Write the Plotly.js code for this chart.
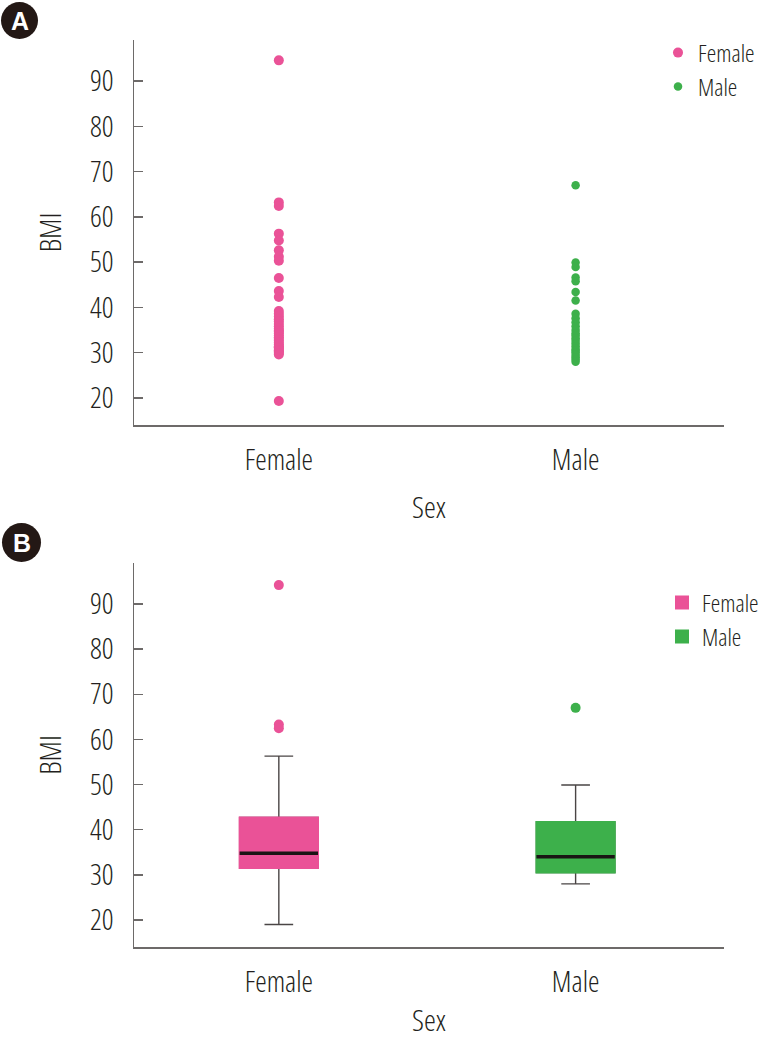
<!DOCTYPE html>
<html>
<head>
<meta charset="utf-8">
<script src="https://cdn.plot.ly/plotly-3.0.1.min.js"></script>
<style>html,body{margin:0;padding:0;background:#fff;overflow:hidden;}#chart{width:768px;height:1042px;}</style>
</head>
<body>
<div id="chart"></div>
<script>
// ---- Data ----
const categories = ['Female', 'Male'];
const femaleBMI = [94.6, 63.2, 62.4, 56.3, 54.8, 52.6, 51.2, 50.3, 46.5, 43.6, 42.3,
  39.2, 38.6, 38.0, 37.4, 36.9, 36.3, 35.8, 35.3, 34.9, 34.6, 34.2, 33.8, 33.4, 33.0,
  32.6, 32.2, 31.8, 31.4, 31.2, 31.0, 30.6, 30.4, 30.2, 29.9, 29.6, 19.3];
const maleBMI = [67.0, 49.9, 48.9, 46.6, 45.8, 43.4, 41.5, 38.6, 37.6, 36.7, 35.8,
  35.0, 34.3, 33.8, 33.2, 32.6, 32.0, 31.4, 30.8, 30.4, 30.0, 29.5, 29.0, 28.5, 28.0];
const boxQ1 = [31.5, 30.5];
const boxMedian = [34.8, 34.0];
const boxQ3 = [42.7, 41.7];
const boxLowerFence = [19.0, 28.0];
const boxUpperFence = [56.3, 49.9];
const femaleOutliers = [94.2, 63.3, 62.5];
const maleOutliers = [67.0];
const yTickVals = [20, 30, 40, 50, 60, 70, 80, 90];
const yTickText = ['20', '30', '40', '50', '60', '70', '80', '90'];
const xTitle = 'Sex';
const yTitle = 'BMI';

// ---- Font choice: pick the narrowest installed sans (reference uses a condensed face) ----
function pickFont() {
  const c = document.createElement('canvas').getContext('2d');
  const sample = 'Female Male 0123456789';
  function width(fam, stretch) {
    c.font = '100px ' + fam;
    if ('fontStretch' in c) c.fontStretch = stretch || 'normal';
    return c.measureText(sample).width;
  }
  const mono = width('monospace'), serif = width('serif');
  const cands = [
    {fam: 'Liberation Sans Narrow', stretch: 'normal'},
    {fam: 'Noto Sans', stretch: 'condensed'},
    {fam: 'Open Sans', stretch: 'condensed'},
    {fam: 'Roboto', stretch: 'condensed'},
    {fam: 'DejaVu Sans Condensed', stretch: 'normal'},
    {fam: 'DejaVu Sans', stretch: 'condensed'}
  ];
  let best = null;
  cands.forEach(cd => {
    const a = width('"' + cd.fam + '", monospace', cd.stretch);
    const b = width('"' + cd.fam + '", serif', cd.stretch);
    if (Math.abs(a - mono) < 0.5 && Math.abs(b - serif) < 0.5) return; // not installed
    if (!best || a < best.w) best = {fam: cd.fam, stretch: cd.stretch, w: a};
  });
  return best || {fam: 'DejaVu Sans Condensed', stretch: 'normal', w: 1000};
}
const chosen = pickFont();
const st = document.createElement('style');
st.textContent = 'text{font-stretch:' + chosen.stretch + ';}';
document.head.appendChild(st);
const emPerFemale = chosen.w / 100 * (6 / 22) * 1.05;
let SZ = Math.max(24, Math.min(29, Math.round(82 / emPerFemale)));
const LSZ = Math.min(SZ - 1, 24);

// ---- Styles ----
const PINK = '#EA5297';
const GREEN = '#3DB04B';
const AXIS = '#6d6a69';
const TXT = '#231f20';
const WHISK = '#4a4545';
const FONT = '"' + chosen.fam + '", "DejaVu Sans Condensed", sans-serif';
const WT = 350;
const W = 768, H = 1042;

const traces = [];
// Panel A: strip plot
traces.push({type: 'scatter', mode: 'markers', name: 'Female', xaxis: 'x', yaxis: 'y',
  x: femaleBMI.map(() => categories[0]), y: femaleBMI, legend: 'legend',
  marker: {color: PINK, size: 10}, hoverinfo: 'y'});
traces.push({type: 'scatter', mode: 'markers', name: 'Male', xaxis: 'x', yaxis: 'y',
  x: maleBMI.map(() => categories[1]), y: maleBMI, legend: 'legend2',
  marker: {color: GREEN, size: 8.5}, hoverinfo: 'y'});

// Panel B: box plots
const cols = [PINK, GREEN];
const boxLegends = ['legend3', 'legend4'];
categories.forEach((c, i) => {
  traces.push({type: 'box', xaxis: 'x2', yaxis: 'y2', x: [c], q1: [boxQ1[i]], median: [boxMedian[i]],
    q3: [boxQ3[i]], lowerfence: [boxLowerFence[i]], upperfence: [boxUpperFence[i]],
    width: 0.264, whiskerwidth: 0.366, boxpoints: false, fillcolor: cols[i],
    line: {color: WHISK, width: 1.4}, showlegend: false, hoverinfo: 'skip'});
});
categories.forEach((c, i) => {
  traces.push({type: 'box', name: c, xaxis: 'x2', yaxis: 'y2', x: [c], q1: [boxQ1[i]], median: [boxMedian[i]],
    q3: [boxQ3[i]], lowerfence: [boxQ1[i]], upperfence: [boxQ3[i]],
    width: 0.264, whiskerwidth: 0, boxpoints: false, fillcolor: cols[i], legend: boxLegends[i],
    line: {color: cols[i], width: 2}, showlegend: true, hoverinfo: 'skip'});
});
categories.forEach((c, i) => {
  traces.push({type: 'box', xaxis: 'x2', yaxis: 'y2', x: [c], q1: [boxMedian[i]], median: [boxMedian[i]],
    q3: [boxMedian[i]], lowerfence: [boxMedian[i]], upperfence: [boxMedian[i]],
    width: 0.264, whiskerwidth: 0, boxpoints: false, fillcolor: 'rgba(0,0,0,0)',
    line: {color: '#1a1414', width: 3.5}, showlegend: false, hoverinfo: 'skip'});
});
traces.push({type: 'scatter', mode: 'markers', xaxis: 'x2', yaxis: 'y2', showlegend: false,
  x: femaleOutliers.map(() => categories[0]), y: femaleOutliers, marker: {color: PINK, size: 10}});
traces.push({type: 'scatter', mode: 'markers', xaxis: 'x2', yaxis: 'y2', showlegend: false,
  x: maleOutliers.map(() => categories[1]), y: maleOutliers, marker: {color: GREEN, size: 10}});

function xAxis(anchor, withTitle) {
  const ax = {domain: [134 / W, 724 / W], anchor: anchor, type: 'category', categoryorder: 'array',
    categoryarray: categories, range: [-0.488, 1.5], showline: true, linecolor: AXIS, linewidth: 1.5,
    ticks: '', showgrid: false, zeroline: false,
    tickfont: {family: FONT, size: SZ, color: TXT, weight: WT},
    ticklabelstandoff: 9, automargin: false};
  if (withTitle) ax.title = {text: xTitle, font: {family: FONT, size: SZ + 1, color: TXT, weight: WT}, standoff: 19};
  return ax;
}
function yAxis(anchor, top, bottom) {
  return {domain: [(H - bottom) / H, (H - top) / H], anchor: anchor, range: [14, 99.1],
    tickvals: yTickVals, ticktext: yTickText, ticks: 'inside', ticklen: 9, tickwidth: 1.5, tickcolor: AXIS,
    showline: true, linecolor: AXIS, linewidth: 1.5, showgrid: false, zeroline: false,
    tickfont: {family: FONT, size: SZ, color: TXT, weight: WT}, ticklabelstandoff: 13, automargin: false,
    title: {text: yTitle, font: {family: FONT, size: SZ + 1, color: TXT, weight: WT}, standoff: 19}};
}

function badge(letter, cx, cy, r) {
  return {
    shape: {type: 'circle', xref: 'paper', yref: 'paper', xsizemode: 'pixel', ysizemode: 'pixel',
      xanchor: cx / W, yanchor: 1 - cy / H, x0: -r, x1: r, y0: -r, y1: r,
      fillcolor: '#231815', line: {width: 0}, layer: 'above'},
    ann: {text: '<b>' + letter + '</b>', xref: 'paper', yref: 'paper', x: cx / W, y: 1 - cy / H,
      xanchor: 'center', yanchor: 'middle', showarrow: false,
      font: {family: '"Liberation Sans", Arial, sans-serif', size: 25, color: '#ffffff'}}
  };
}
const bA = badge('A', 19.5, 20.5, 18.5);
const bB = badge('B', 21.5, 542.5, 19.5);
// x-axis title of panel B, sitting on the bottom edge of the page
const sexB = {text: xTitle, xref: 'x2 domain', yref: 'paper', x: 0.5, y: 1 / H,
  xanchor: 'center', yanchor: 'bottom', showarrow: false, borderpad: 0,
  font: {family: FONT, size: SZ + 1, color: TXT, weight: WT}};

function legendAt(xPx, yPx) {
  return {x: xPx / W, xanchor: 'left', y: 1 - yPx / H, yanchor: 'middle', bgcolor: 'rgba(0,0,0,0)',
    font: {family: FONT, size: LSZ, color: TXT, weight: WT}, borderwidth: 0};
}

const layout = {
  width: W, height: H, margin: {l: 0, r: 0, t: 0, b: 0, autoexpand: false},
  paper_bgcolor: '#fff', plot_bgcolor: '#fff',
  font: {family: FONT, color: TXT, weight: WT},
  xaxis: xAxis('y', true), yaxis: yAxis('x', 40, 425),
  xaxis2: xAxis('y2', false), yaxis2: yAxis('x2', 563, 947),
  boxmode: 'overlay',
  legend: legendAt(658, 53),
  legend2: legendAt(658, 87),
  legend3: legendAt(662, 603),
  legend4: legendAt(662, 637),
  shapes: [bA.shape, bB.shape],
  annotations: [bA.ann, bB.ann, sexB],
  showlegend: true
};

Plotly.newPlot('chart', traces, layout, {displayModeBar: false, staticPlot: true});
</script>
</body>
</html>
